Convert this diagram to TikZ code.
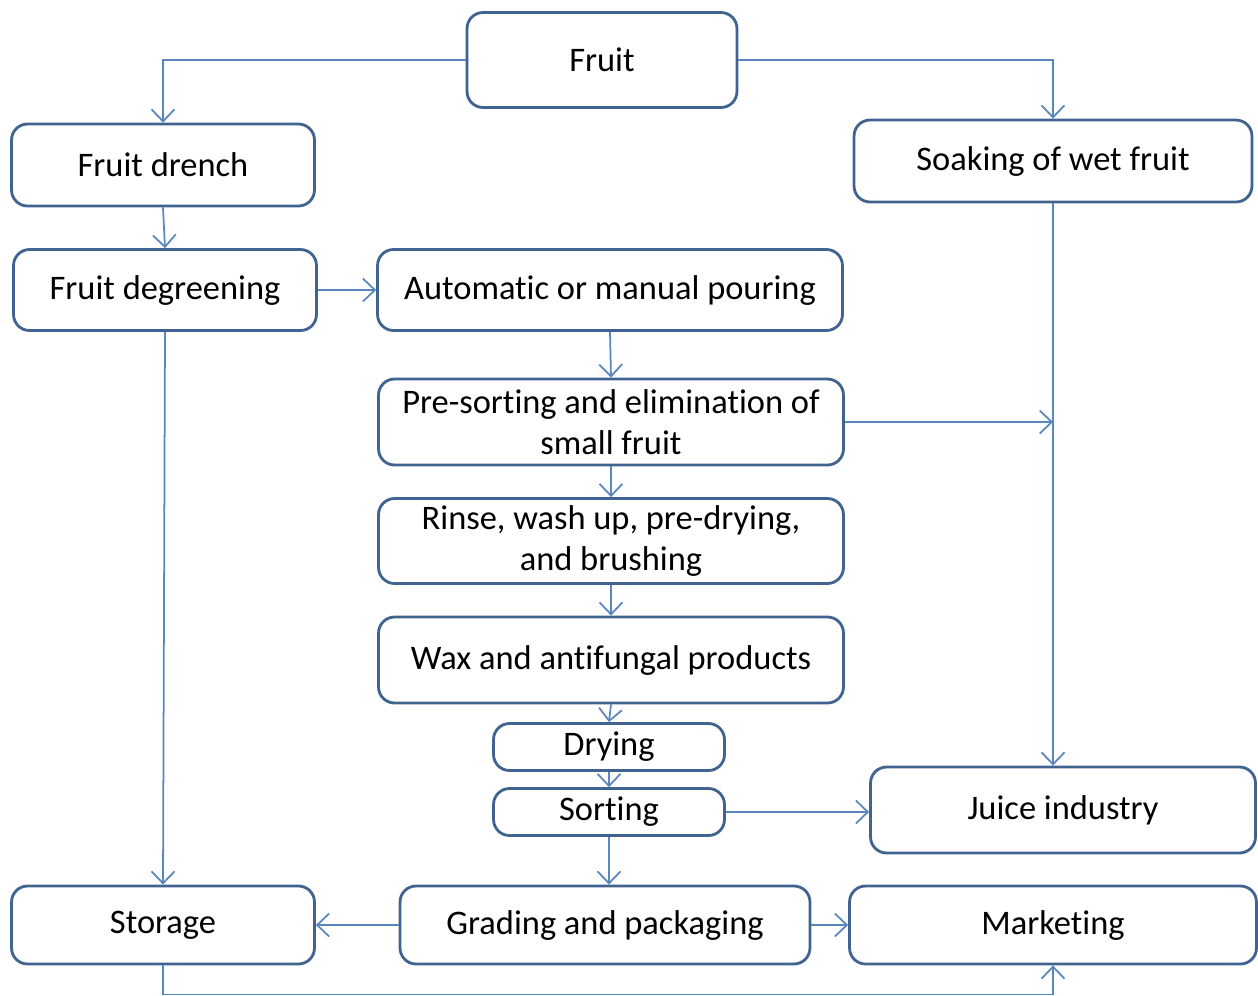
\documentclass[tikz,border=0pt]{standalone}
\usepackage{fontspec}
\setmainfont{Carlito}[Ligatures=NoCommon]
\usetikzlibrary{arrows.meta,positioning}
\definecolor{boxblue}{HTML}{41638F}
\definecolor{lineblue}{HTML}{5A86BE}

\begin{document}
\begin{tikzpicture}[x=0.02cm, y=-0.02cm, >={Straight Barb[length=2.4mm,width=4.6mm]}, font=\fontsize{19.6}{23}\selectfont]
	    \tikzstyle{box}=[draw=boxblue, line width=1.6pt, rounded corners=0.32cm, fill=white, align=center, inner sep=2pt]
	    \tikzstyle{flow}=[draw=lineblue, line width=1pt, ->]
	    \useasboundingbox (0,0) rectangle (1258,995);
	    
	    \node[box, minimum width=5.4cm, minimum height=1.9cm] (fruit) at (602,60) {Fruit};
	    \node[box, minimum width=6.06cm, minimum height=1.64cm] (drench) at (163,165) {Fruit drench};
	    \node[box, minimum width=7.96cm, minimum height=1.64cm] (soak) at (1053,161) {Soaking of wet fruit};
	    \node[box, minimum width=6.06cm, minimum height=1.62cm] (degreen) at (165,290) {Fruit degreening};
	    \node[box, minimum width=9.3cm, minimum height=1.62cm] (pour) at (610,290) {Automatic or manual pouring};
	    \node[box, minimum width=9.3cm, minimum height=1.72cm] (presort) at (611,422) {Pre-sorting and elimination of\\ small fruit};
	    \node[box, minimum width=9.3cm, minimum height=1.7cm] (rinse) at (611,541) {Rinse, wash up, pre-drying,\\ and brushing};
	    \node[box, minimum width=9.3cm, minimum height=1.72cm] (wax) at (611,660) {Wax and antifungal products};
	    \node[box, minimum width=4.62cm, minimum height=0.94cm] (dry) at (609,747) {Drying};
	    \node[box, minimum width=4.62cm, minimum height=0.94cm] (sort) at (609,812) {Sorting};
	    \node[box, minimum width=7.7cm, minimum height=1.72cm] (juice) at (1063,810) {Juice industry};
	    \node[box, minimum width=6.06cm, minimum height=1.56cm] (storage) at (163,925) {Storage};
	    \node[box, minimum width=8.2cm, minimum height=1.56cm] (grading) at (605,925) {Grading and packaging};
	    \node[box, minimum width=8.14cm, minimum height=1.56cm] (market) at (1053,925) {Marketing};
	    
	    % top branches
	    \draw[flow] (fruit.west) -| (drench.north);
	    \draw[flow] (fruit.east) -| (soak.north);
	    \draw[flow] (drench.south) -- (degreen.north);
	    \draw[flow] (degreen.east) -- (degreen.east -| pour.west);
	    \draw[flow] (degreen.south) -- (storage.north);
	    
	    % main line
	    \draw[flow] (pour.south) -- (presort.north);
	    \draw[flow] (presort.east) -- (presort.east -| soak.south);
	    \draw[flow] (presort.south) -- (rinse.north);
	    \draw[flow] (rinse.south) -- (wax.north);
	    \draw[flow] (wax.south) -- (dry.north);
	    \draw[flow] (dry.south) -- (sort.north);
	    \draw[flow] (soak.south) -- (soak.south |- juice.north);
	    \draw[flow] (sort.east) -- (sort.east -| juice.west);
	    \draw[flow] (sort.south) -- (sort.south |- grading.north);
	    
	    % bottom row
	    \draw[flow] (grading.west) -- (storage.east);
	    \draw[flow] (grading.east) -- (market.west);
	    \draw[flow] (storage.south) -- ++(0,29) -| (market.south);
\end{tikzpicture}
\end{document}
